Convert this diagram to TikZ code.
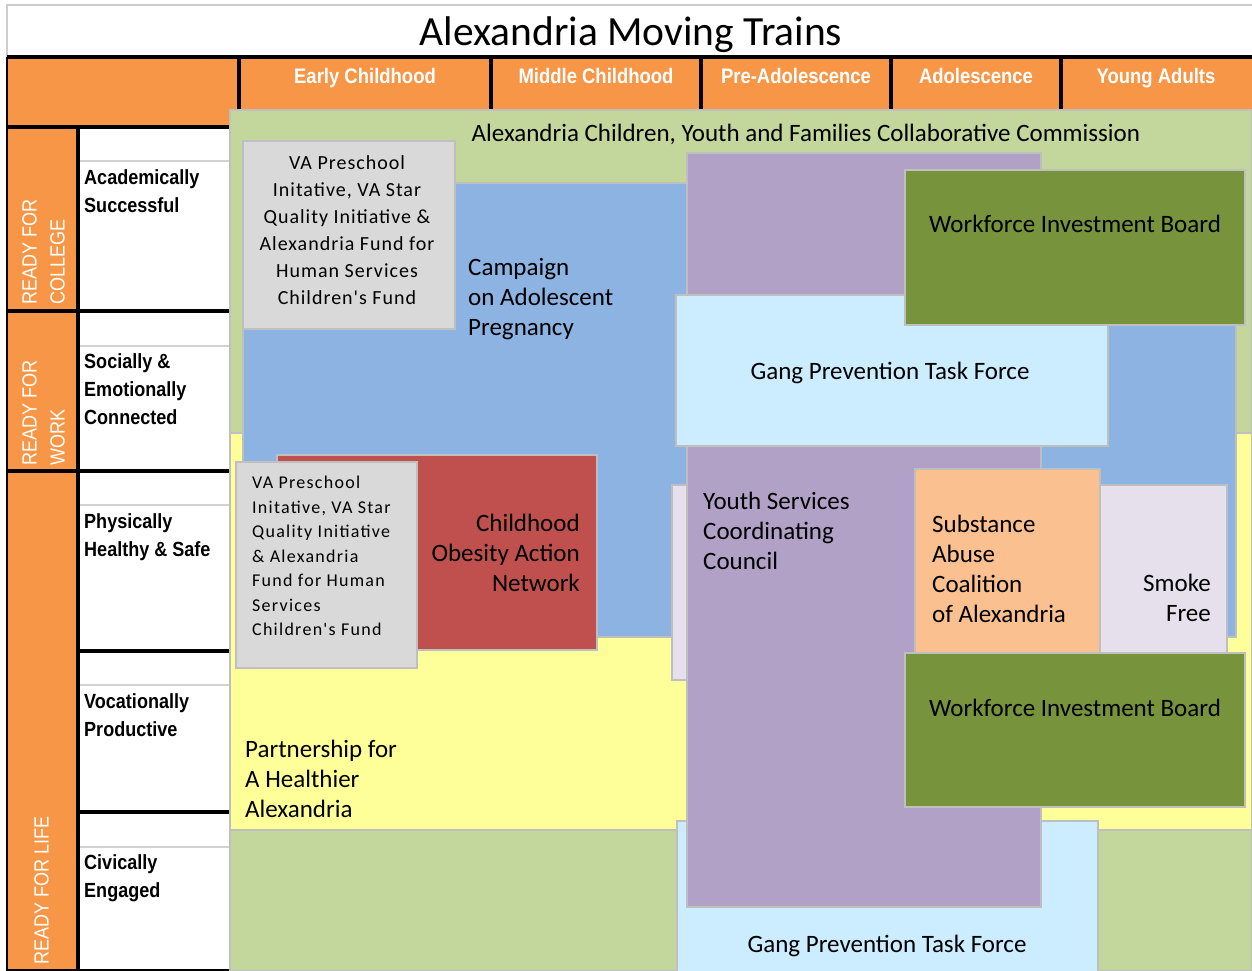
\documentclass[tikz,border=0pt]{standalone}
\usepackage{fontspec}
\setmainfont{Carlito}
\newfontfamily\narrowsans[FakeStretch=0.88]{Liberation Sans}
\newfontfamily\spacedfont[LetterSpace=5]{Carlito}
\newfontfamily\widefont[LetterSpace=7]{Carlito}
\definecolor{hdrorange}{HTML}{F79646}
\definecolor{commgreen}{HTML}{C3D69B}
\definecolor{healthyellow}{HTML}{FFFF99}
\definecolor{campblue}{HTML}{8DB3E2}
\definecolor{fundgray}{HTML}{D9D9D9}
\definecolor{obesred}{HTML}{C0504D}
\definecolor{smokelav}{HTML}{E6E0EC}
\definecolor{youthpurple}{HTML}{B2A1C7}
\definecolor{gangblue}{HTML}{CCECFF}
\definecolor{wibgreen}{HTML}{77933C}
\definecolor{subsorange}{HTML}{FAC090}
\definecolor{edgegray}{HTML}{BFBFBF}

\begin{document}
\begin{tikzpicture}[x=1pt,y=-1pt,
    box/.style={draw=edgegray,line width=1.5pt},
    rule/.style={line width=3.5pt},
    hair/.style={draw=black!18,line width=1.5pt},
    agehdr/.style={anchor=base,text=white,font=\narrowsans\bfseries\fontsize{21}{24}\selectfont},
    outcome/.style={anchor=north west,align=left,inner sep=0pt,font=\narrowsans\bfseries\fontsize{20.5}{28}\selectfont},
    readiness/.style={rotate=90,anchor=north west,align=left,inner sep=0pt,text=white,font=\narrowsans\fontsize{20.5}{28}\selectfont},
    trainlbl/.style={inner sep=0pt,font=\fontsize{25}{30}\selectfont},
    fundlbl/.style={inner sep=0pt,font=\spacedfont\fontsize{20}{27}\selectfont}]
  \useasboundingbox (0,0) rectangle (1252,971);
  \fill[white] (0,0) rectangle (1252,971);
  \draw[black!20,line width=2pt] (7,971) -- (7,5) -- (1252,5);
  \node[anchor=base] (title) at (631,46) {\fontsize{41.5}{46}\selectfont Alexandria Moving Trains};

  % age bands
  \fill[hdrorange] (7,57) rectangle (1252,110);
  \fill[hdrorange] (7,110) rectangle (230,127);
  \fill[hdrorange] (7,127) rectangle (78,970);
  \draw[rule] (7,57) -- (1252,57);
  \foreach \x in {239,491,701,891,1061}
    \draw[rule] (\x,57) -- (\x,110);
  \node[agehdr] (early) at (365,84) {Early Childhood};
  \node[agehdr] (middle) at (596,84) {Middle Childhood};
  \node[agehdr] (preado) at (796,84) {Pre-Adolescence};
  \node[agehdr] (ado) at (976,84) {Adolescence};
  \node[agehdr] (young) at (1156,84) {Young Adults};

  % outcomes
  \foreach \y in {161,346,505,685,847}
    \draw[hair] (80,\y) -- (230,\y);
  \draw[rule] (7,127) -- (230,127);
  \draw[rule] (7,311) -- (230,311);
  \draw[rule] (7,471) -- (230,471);
  \draw[rule] (78,651) -- (230,651);
  \draw[rule] (78,812) -- (230,812);
  \draw[rule] (78,127) -- (78,970);
  \draw[line width=1.5pt] (7,57) -- (7,970) -- (230,970);
  \node[readiness] (college) at (22,305) {READY FOR\\COLLEGE};
  \node[readiness] (work) at (22,466) {READY FOR\\WORK};
  \node[readiness] (life) at (34,965) {READY FOR LIFE};
  \node[outcome] (acad) at (84,169) {Academically\\Successful};
  \node[outcome] (social) at (84,353) {Socially \&\\Emotionally\\Connected};
  \node[outcome] (health) at (84,513) {Physically\\Healthy \& Safe};
  \node[outcome] (voc) at (84,693) {Vocationally\\Productive};
  \node[outcome] (civic) at (84,854) {Civically\\Engaged};

  % trains
  \path[box,fill=commgreen] (230,110) rectangle (1252,971);
  \path[box,fill=healthyellow] (230,433) rectangle (1252,830);
  \path[box,fill=campblue] (243,183) rectangle (1236,637);
  \path[box,fill=fundgray] (243,141) rectangle (455,329);
  \path[box,fill=obesred] (277,455) rectangle (597,650);
  \path[box,fill=fundgray] (236,462) rectangle (417,668);
  \path[box,fill=smokelav] (672,485) rectangle (1227,680);
  \path[box,fill=gangblue] (677,821) rectangle (1098,975);
  \path[box,fill=youthpurple] (687,153) rectangle (1041,907);
  \path[box,fill=subsorange] (915,469) rectangle (1100,653);
  \path[box,fill=gangblue] (676,295) rectangle (1108,446);
  \path[box,fill=wibgreen] (905,170) rectangle (1245,325);
  \path[box,fill=wibgreen] (905,653) rectangle (1245,807);

  \node[anchor=base] (commission) at (806,141) {\fontsize{25}{30}\selectfont Alexandria Children, Youth and Families Collaborative Commission};
  \node[fundlbl,anchor=north,align=center] (fund1) at (347,155) {VA Preschool\\Initative, VA Star\\Quality Initiative \&\\Alexandria Fund for\\Human Services\\Children's Fund};
  \node[trainlbl,anchor=north west,align=left] (campaign) at (468,258) {Campaign\\on Adolescent\\Pregnancy};
  \node[trainlbl,anchor=north east,align=right] (obesity) at (580,514) {Childhood\\Obesity Action\\Network};
  \node[fundlbl,anchor=north west,align=left,font=\widefont\fontsize{18}{24.5}\selectfont] (fund2) at (252,476) {VA Preschool\\Initative, VA Star\\Quality Initiative\\\& Alexandria\\Fund for Human\\Services\\Children's Fund};
  \node[trainlbl,anchor=north west,align=left] (youth) at (703,492) {Youth Services\\Coordinating\\Council};
  \node[trainlbl,anchor=north west,align=left] (subs) at (932,515) {Substance\\Abuse\\Coalition\\of Alexandria};
  \node[trainlbl,anchor=north east,align=right] (smoke) at (1211,574) {Smoke\\Free};
  \node[trainlbl,anchor=north west,align=left] (partner) at (245,740) {Partnership for\\A Healthier\\Alexandria};
  \node[trainlbl,anchor=base] (wib1) at (1075,232) {Workforce Investment Board};
  \node[trainlbl,anchor=base] (gang1) at (890,379) {Gang Prevention Task Force};
  \node[trainlbl,anchor=base] (wib2) at (1075,716) {Workforce Investment Board};
  \node[trainlbl,anchor=base] (gang2) at (887,952) {Gang Prevention Task Force};
\end{tikzpicture}
\end{document}
